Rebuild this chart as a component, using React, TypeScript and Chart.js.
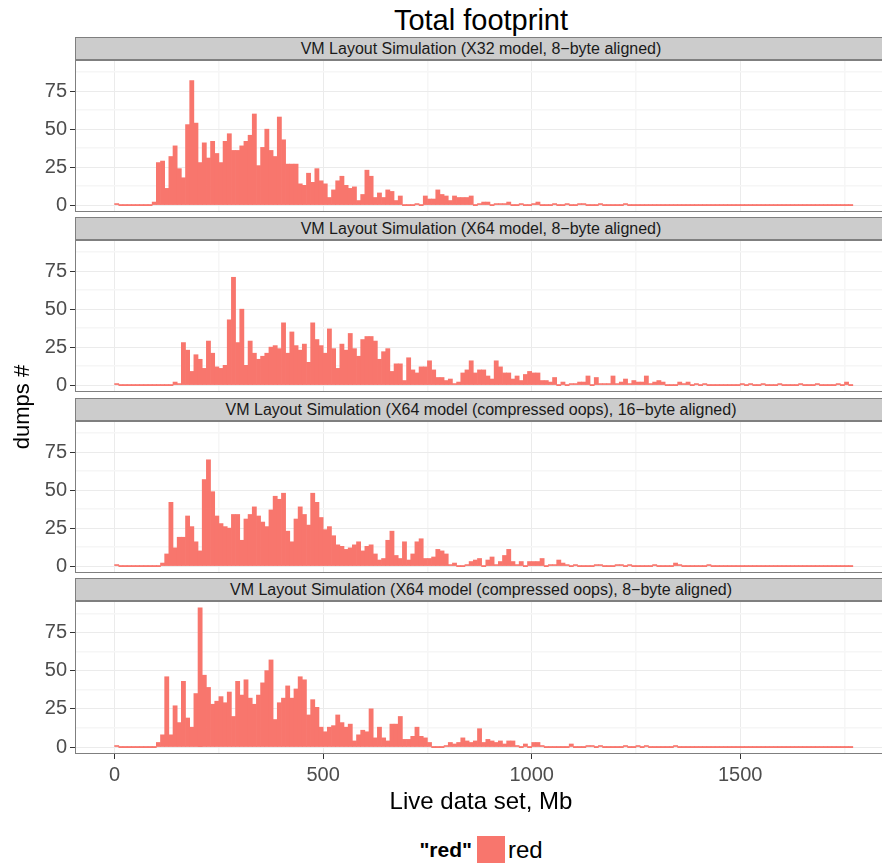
import React, { useEffect, useRef } from "react";
import { Chart, registerables } from "chart.js";

Chart.register(...registerables);

// ---------- data (counts per 10 Mb bin, bins start at 0 Mb) ----------
const BIN_WIDTH = 10;

const PANEL_TITLES = [
  "VM Layout Simulation (X32 model, 8\u2212byte aligned)",
  "VM Layout Simulation (X64 model, 8\u2212byte aligned)",
  "VM Layout Simulation (X64 model (compressed oops), 16\u2212byte aligned)",
  "VM Layout Simulation (X64 model (compressed oops), 8\u2212byte aligned)",
];

const X32_8BYTE = [
  1, 0, 0, 0, 0, 0, 0, 0, 0, 2,
  28, 29, 11, 32, 39, 24, 18, 53, 82, 54,
  28, 41, 31, 42, 34, 28, 42, 47, 36, 36,
  39, 42, 46, 60, 26, 38, 50, 36, 32, 58,
  43, 27, 27, 27, 14, 13, 21, 15, 24, 16,
  14, 5, 10, 16, 19, 13, 11, 12, 3, 7,
  23, 19, 5, 8, 5, 10, 9, 3, 6, 0,
  0, 0, 1, 0, 6, 4, 4, 10, 7, 6,
  3, 6, 5, 5, 5, 6, 0, 1, 2, 2,
  0, 1, 1, 1, 2, 0, 0, 1, 0, 0,
  1, 2, 0, 0, 0, 1, 0, 0, 1, 0,
  0, 1, 1, 0, 0, 0, 1, 0, 0, 0,
  0, 0, 1, 0, 0, 0, 0, 0, 0, 0,
  0, 0, 0, 0, 0, 0, 0, 0, 0, 0,
  0, 0, 0, 0, 0, 0, 0, 0, 0, 0,
  0, 0, 0, 0, 0, 0, 0, 0, 0, 0,
  0, 0, 0, 0, 0, 0, 0, 0, 0, 0,
  0, 0, 0, 0, 0, 0, 0,
];

const X64_8BYTE = [
  1, 0, 0, 0, 0, 0, 0, 0, 0, 0,
  0, 0, 0, 0, 2, 1, 28, 23, 9, 20,
  17, 11, 29, 21, 12, 11, 13, 43, 71, 28,
  50, 13, 29, 21, 17, 19, 21, 25, 26, 24,
  41, 21, 35, 26, 23, 27, 15, 41, 30, 26,
  21, 37, 24, 11, 27, 23, 34, 24, 19, 30,
  32, 32, 29, 17, 22, 24, 9, 14, 14, 3,
  18, 10, 8, 12, 12, 16, 10, 5, 5, 3,
  4, 1, 2, 8, 10, 16, 8, 10, 10, 6,
  4, 16, 12, 8, 8, 4, 6, 3, 7, 9,
  8, 8, 3, 3, 2, 5, 0, 2, 0, 1,
  1, 2, 2, 6, 0, 5, 1, 1, 1, 6,
  1, 2, 4, 1, 3, 2, 2, 6, 1, 2,
  3, 2, 0, 0, 0, 2, 1, 2, 0, 1,
  0, 1, 0, 0, 0, 0, 0, 0, 0, 0,
  1, 0, 1, 0, 0, 1, 0, 0, 0, 1,
  0, 0, 0, 0, 1, 0, 0, 0, 1, 0,
  0, 0, 0, 1, 0, 2, 0,
];

const X64_COOPS_16BYTE = [
  1, 0, 0, 0, 0, 0, 0, 0, 0, 0,
  0, 2, 8, 42, 12, 19, 19, 33, 26, 16,
  10, 57, 70, 49, 33, 28, 26, 25, 34, 34,
  17, 31, 34, 39, 33, 29, 26, 37, 46, 44,
  48, 23, 16, 31, 39, 34, 27, 48, 42, 32,
  24, 26, 20, 14, 13, 11, 12, 14, 16, 10,
  13, 14, 8, 4, 5, 17, 23, 7, 5, 16,
  4, 8, 16, 18, 5, 5, 6, 11, 10, 8,
  1, 2, 0, 0, 1, 3, 4, 5, 0, 4,
  6, 1, 3, 7, 11, 3, 1, 3, 0, 3,
  3, 3, 5, 0, 1, 1, 4, 2, 1, 0,
  1, 0, 0, 0, 0, 1, 1, 0, 0, 0,
  1, 1, 0, 1, 0, 0, 0, 0, 0, 1,
  0, 0, 0, 0, 2, 1, 0, 0, 0, 0,
  0, 0, 1, 0, 0, 0, 0, 0, 0, 0,
  0, 0, 0, 0, 0, 0, 0, 0, 0, 0,
  0, 0, 0, 0, 0, 0, 0, 0, 0, 0,
  0, 0, 0, 0, 0, 0, 0,
];

const X64_COOPS_8BYTE = [
  1, 0, 0, 0, 0, 0, 0, 0, 0, 0,
  3, 8, 46, 8, 27, 16, 43, 19, 13, 35,
  91, 47, 39, 28, 30, 33, 29, 36, 20, 43,
  34, 44, 32, 28, 34, 42, 50, 57, 18, 29,
  32, 40, 32, 38, 46, 44, 21, 31, 26, 13,
  10, 13, 14, 21, 16, 13, 15, 4, 8, 11,
  10, 25, 6, 13, 6, 4, 15, 15, 20, 5,
  5, 7, 13, 7, 6, 3, 0, 0, 0, 1,
  3, 2, 3, 6, 4, 3, 4, 12, 3, 5,
  4, 3, 4, 2, 4, 4, 1, 0, 2, 0,
  3, 3, 1, 0, 0, 0, 0, 0, 0, 2,
  0, 0, 0, 1, 1, 0, 1, 0, 0, 0,
  0, 0, 1, 0, 0, 1, 0, 1, 0, 0,
  0, 0, 0, 0, 1, 0, 0, 0, 0, 0,
  0, 0, 0, 0, 0, 0, 0, 0, 0, 0,
  0, 0, 0, 0, 0, 0, 0, 0, 0, 0,
  0, 0, 0, 0, 0, 0, 0, 0, 0, 0,
  0, 0, 0, 0, 0, 0, 0,
];

const PANEL_COUNTS = [X32_8BYTE, X64_8BYTE, X64_COOPS_16BYTE, X64_COOPS_8BYTE];

const X_MAJOR_TICKS = [0, 500, 1000, 1500];
const X_MINOR_TICKS = [250, 750, 1250, 1750];
const Y_MAJOR_TICKS = [0, 25, 50, 75];
const Y_MINOR_TICKS = [12.5, 37.5, 62.5, 87.5];

const TITLE = "Total footprint";
const X_TITLE = "Live data set, Mb";
const Y_TITLE = "dumps #";
const LEGEND_TITLE = '"red"';
const LEGEND_LABELS = ["red"];

// ---------- style / layout ----------
const FONT = '"Liberation Sans", Arial, Helvetica, sans-serif';
const BAR_COLOR = "#F8766D";
const X_MIN = -95;
const X_MAX = 1852;
const LEFT = 75;
const RIGHT = 887;
const CANVAS_W = RIGHT + 2;
const STRIP_TOPS = [37, 217, 398, 578];
const STRIP_H = 23;
const PANEL_H = 152;
const X_AXIS_H = 40;

const maxCount = Math.max(...PANEL_COUNTS.map((c) => Math.max(...c)));
const Y_MIN = -0.05 * maxCount;
const Y_MAX = 1.05 * maxCount;

const panelBorder = {
  id: "panelBorder",
  afterDraw(chart: any) {
    const { ctx, chartArea: a } = chart;
    ctx.save();
    ctx.strokeStyle = "#7F7F7F";
    ctx.lineWidth = 1;
    ctx.strokeRect(
      Math.round(a.left) + 0.5,
      Math.round(a.top) + 0.5,
      Math.round(a.right - a.left) - 1,
      Math.round(a.bottom - a.top) - 1
    );
    ctx.restore();
  },
};

function Panel({ counts, top, showX }: { counts: number[]; top: number; showX: boolean }) {
  const ref = useRef<HTMLCanvasElement | null>(null);
  const height = PANEL_H + 2 + (showX ? X_AXIS_H : 0);

  useEffect(() => {
    const canvas = ref.current;
    if (!canvas) return;
    const xTicks = [...X_MAJOR_TICKS, ...X_MINOR_TICKS].sort((a, b) => a - b);
    const yTicks = [...Y_MAJOR_TICKS, ...Y_MINOR_TICKS].sort((a, b) => a - b);
    const isMajorX = (v: number) => X_MAJOR_TICKS.includes(v);
    const isMajorY = (v: number) => Y_MAJOR_TICKS.includes(v);

    const chart = new Chart(canvas, {
      type: "bar",
      data: {
        datasets: [
          {
            data: counts.map((c, i) => ({ x: i * BIN_WIDTH + BIN_WIDTH / 2, y: c })),
            backgroundColor: BAR_COLOR,
            borderWidth: 0,
            categoryPercentage: 1,
            barPercentage: 1,
            minBarLength: 1.2,
          } as any,
        ],
      },
      options: {
        responsive: false,
        animation: false,
        events: [],
        layout: { padding: { left: 0, right: 2, top: 1, bottom: showX ? 0 : 1 } },
        plugins: { legend: { display: false }, tooltip: { enabled: false } },
        scales: {
          x: {
            type: "linear",
            min: X_MIN,
            max: X_MAX,
            offset: false,
            afterBuildTicks: (s: any) => {
              s.ticks = xTicks.map((v) => ({ value: v }));
            },
            afterFit: (s: any) => {
              s.height = showX ? X_AXIS_H : 0;
              s.paddingLeft = 0;
              s.paddingRight = 0;
              s.paddingTop = 0;
              s.paddingBottom = 0;
            },
            border: { display: false },
            grid: {
              offset: false,
              drawTicks: showX,
              tickLength: 5,
              color: (ctx: any) => (isMajorX(ctx.tick?.value) ? "#EBEBEB" : "#F6F6F6"),
              lineWidth: (ctx: any) => (isMajorX(ctx.tick?.value) ? 1 : 1.5),
              tickColor: (ctx: any) => (isMajorX(ctx.tick?.value) ? "#333333" : "rgba(0,0,0,0)"),
            },
            ticks: {
              display: showX,
              autoSkip: false,
              maxRotation: 0,
              padding: 4,
              color: "#4D4D4D",
              font: { family: FONT, size: 20 },
              callback: (v: any) => (isMajorX(Number(v)) ? String(v) : ""),
            },
          },
          y: {
            type: "linear",
            min: Y_MIN,
            max: Y_MAX,
            afterBuildTicks: (s: any) => {
              s.ticks = yTicks.map((v) => ({ value: v }));
            },
            afterFit: (s: any) => {
              s.width = LEFT;
              s.paddingLeft = 0;
              s.paddingRight = 0;
              s.paddingTop = 0;
              s.paddingBottom = 0;
            },
            border: { display: false },
            grid: {
              drawTicks: true,
              tickLength: 5,
              color: (ctx: any) => (isMajorY(ctx.tick?.value) ? "#EBEBEB" : "#F6F6F6"),
              lineWidth: (ctx: any) => (isMajorY(ctx.tick?.value) ? 1 : 1.5),
              tickColor: (ctx: any) => (isMajorY(ctx.tick?.value) ? "#333333" : "rgba(0,0,0,0)"),
            },
            ticks: {
              autoSkip: false,
              padding: 3,
              color: "#4D4D4D",
              font: { family: FONT, size: 20 },
              callback: (v: any) => (isMajorY(Number(v)) ? String(v) : ""),
            },
          },
        },
      } as any,
      plugins: [panelBorder],
    });
    return () => chart.destroy();
  }, [counts, showX]);

  return (
    <canvas
      ref={ref}
      width={CANVAS_W}
      height={height}
      style={{ position: "absolute", left: 0, top: top - 1, width: CANVAS_W, height }}
    />
  );
}

export default function App() {
  const center = (LEFT + RIGHT) / 2;
  return (
    <div
      style={{
        position: "absolute",
        left: 0,
        top: 0,
        width: 882,
        height: 863,
        overflow: "hidden",
        background: "#FFFFFF",
        fontFamily: FONT,
      }}
    >
      <div
        style={{
          position: "absolute",
          left: center - 300,
          width: 600,
          top: 4,
          textAlign: "center",
          fontSize: 29,
          lineHeight: "32px",
          color: "#000",
        }}
      >
        {TITLE}
      </div>

      {PANEL_COUNTS.map((counts, i) => (
        <React.Fragment key={i}>
          <div
            style={{
              position: "absolute",
              left: LEFT,
              top: STRIP_TOPS[i],
              width: RIGHT - LEFT,
              height: STRIP_H,
              boxSizing: "border-box",
              background: "#CCCCCC",
              border: "1px solid #7F7F7F",
              textAlign: "center",
              fontSize: 16,
              lineHeight: STRIP_H - 2 + "px",
              color: "#1A1A1A",
              whiteSpace: "nowrap",
            }}
          >
            {PANEL_TITLES[i]}
          </div>
          <Panel counts={counts} top={STRIP_TOPS[i] + STRIP_H} showX={i === PANEL_COUNTS.length - 1} />
        </React.Fragment>
      ))}

      <div
        style={{
          position: "absolute",
          left: 22 - 100,
          top: 407 - 15,
          width: 200,
          height: 30,
          lineHeight: "30px",
          textAlign: "center",
          fontSize: 22,
          transform: "rotate(-90deg)",
          color: "#000",
        }}
      >
        {Y_TITLE}
      </div>

      <div
        style={{
          position: "absolute",
          left: center - 200,
          width: 400,
          top: 786,
          textAlign: "center",
          fontSize: 24,
          lineHeight: "30px",
          color: "#000",
        }}
      >
        {X_TITLE}
      </div>

      <div
        style={{
          position: "absolute",
          left: 300,
          width: 172,
          top: 836,
          height: 28,
          lineHeight: "28px",
          textAlign: "right",
          fontSize: 21,
          fontWeight: "bold",
          color: "#000",
        }}
      >
        {LEGEND_TITLE}
      </div>
      <div
        style={{
          position: "absolute",
          left: 477,
          top: 836,
          width: 28,
          height: 28,
          background: BAR_COLOR,
        }}
      />
      <div
        style={{
          position: "absolute",
          left: 508,
          top: 836,
          height: 28,
          lineHeight: "28px",
          fontSize: 24,
          color: "#000",
        }}
      >
        {LEGEND_LABELS[0]}
      </div>
    </div>
  );
}
